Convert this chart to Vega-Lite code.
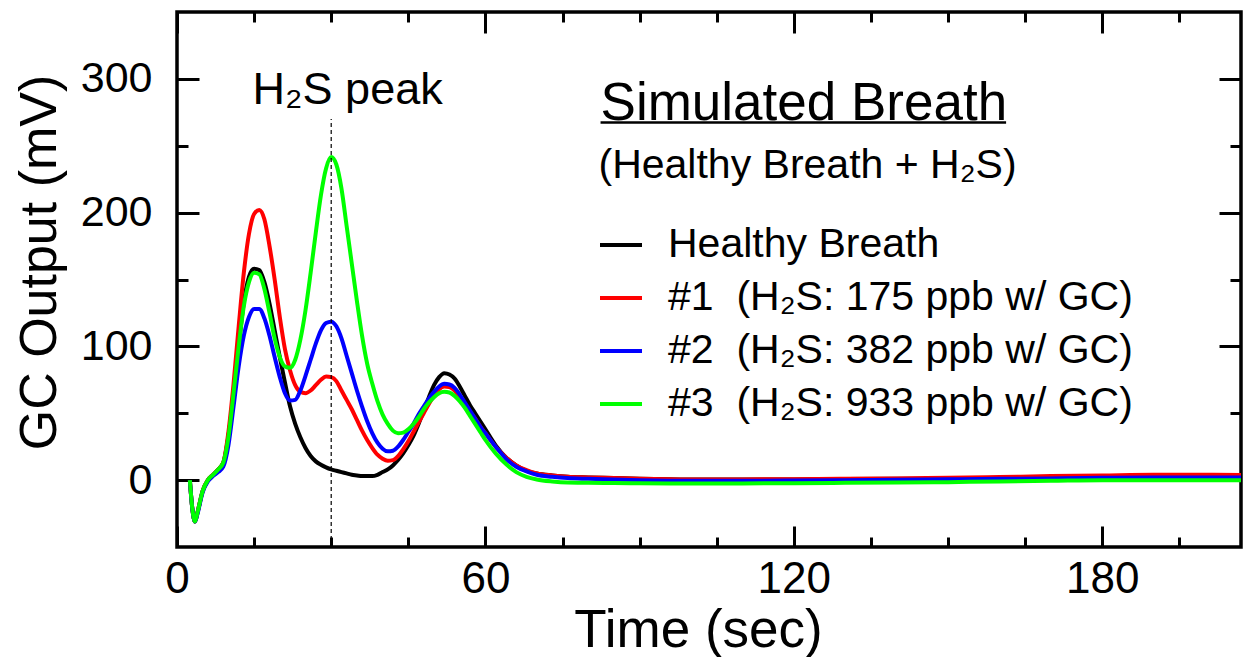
{
  "$schema": "https://vega.github.io/schema/vega-lite/v6.json",
  "width": 1064,
  "height": 535,
  "autosize": {"type": "none"},
  "padding": {"left": 177, "top": 12, "right": 2, "bottom": 110},
  "background": "white",
  "config": {
    "view": {"stroke": "black", "strokeWidth": 3.5},
    "font": "Liberation Sans"
  },
  "resolve": {"axis": {"x": "independent", "y": "independent"}},
  "layer": [
    {
      "data": {"values": [
        {"series":"Healthy Breath","t":2.5,"mV":0},{"series":"Healthy Breath","t":3,"mV":-22},{"series":"Healthy Breath","t":3.5,"mV":-31},{"series":"Healthy Breath","t":4,"mV":-24},{"series":"Healthy Breath","t":5,"mV":-8},{"series":"Healthy Breath","t":6,"mV":0},{"series":"Healthy Breath","t":7,"mV":4},{"series":"Healthy Breath","t":8,"mV":8},{"series":"Healthy Breath","t":9,"mV":13},
        {"series":"Healthy Breath","t":10,"mV":33},{"series":"Healthy Breath","t":11,"mV":64},{"series":"Healthy Breath","t":12,"mV":100},{"series":"Healthy Breath","t":13,"mV":133},{"series":"Healthy Breath","t":14,"mV":152},{"series":"Healthy Breath","t":15,"mV":158},{"series":"Healthy Breath","t":16,"mV":157},{"series":"Healthy Breath","t":17,"mV":148},{"series":"Healthy Breath","t":18,"mV":132},{"series":"Healthy Breath","t":19,"mV":112},
        {"series":"Healthy Breath","t":20,"mV":92},{"series":"Healthy Breath","t":21,"mV":73},{"series":"Healthy Breath","t":22,"mV":55},{"series":"Healthy Breath","t":23,"mV":42},{"series":"Healthy Breath","t":24,"mV":32},{"series":"Healthy Breath","t":25,"mV":24},{"series":"Healthy Breath","t":26,"mV":18},{"series":"Healthy Breath","t":27,"mV":14},{"series":"Healthy Breath","t":28,"mV":11.5},{"series":"Healthy Breath","t":29,"mV":9.5},
        {"series":"Healthy Breath","t":30,"mV":8},{"series":"Healthy Breath","t":31,"mV":7},{"series":"Healthy Breath","t":32,"mV":6},{"series":"Healthy Breath","t":33,"mV":5},{"series":"Healthy Breath","t":34,"mV":4},{"series":"Healthy Breath","t":35,"mV":3.5},{"series":"Healthy Breath","t":36,"mV":3},{"series":"Healthy Breath","t":37,"mV":3},{"series":"Healthy Breath","t":38,"mV":3},{"series":"Healthy Breath","t":39,"mV":4},
        {"series":"Healthy Breath","t":40,"mV":6},{"series":"Healthy Breath","t":41,"mV":8},{"series":"Healthy Breath","t":42,"mV":11},{"series":"Healthy Breath","t":43,"mV":15},{"series":"Healthy Breath","t":44,"mV":20},{"series":"Healthy Breath","t":45,"mV":26},{"series":"Healthy Breath","t":46,"mV":33},{"series":"Healthy Breath","t":47,"mV":42},{"series":"Healthy Breath","t":48,"mV":52},{"series":"Healthy Breath","t":49,"mV":62},
        {"series":"Healthy Breath","t":50,"mV":71},{"series":"Healthy Breath","t":51,"mV":77},{"series":"Healthy Breath","t":52,"mV":80},{"series":"Healthy Breath","t":53,"mV":79},{"series":"Healthy Breath","t":54,"mV":76},{"series":"Healthy Breath","t":55,"mV":70},{"series":"Healthy Breath","t":56,"mV":63},{"series":"Healthy Breath","t":57,"mV":56},{"series":"Healthy Breath","t":58,"mV":50},{"series":"Healthy Breath","t":59,"mV":44},
        {"series":"Healthy Breath","t":60,"mV":38},{"series":"Healthy Breath","t":62,"mV":26},{"series":"Healthy Breath","t":64,"mV":17},{"series":"Healthy Breath","t":66,"mV":11},{"series":"Healthy Breath","t":68,"mV":7},{"series":"Healthy Breath","t":70,"mV":5},{"series":"Healthy Breath","t":73,"mV":3.5},{"series":"Healthy Breath","t":76,"mV":2.5},{"series":"Healthy Breath","t":80,"mV":2},{"series":"Healthy Breath","t":85,"mV":1.5},
        {"series":"Healthy Breath","t":90,"mV":1},{"series":"Healthy Breath","t":100,"mV":0.5},{"series":"Healthy Breath","t":110,"mV":0.5},{"series":"Healthy Breath","t":120,"mV":0.5},{"series":"Healthy Breath","t":130,"mV":0.8},{"series":"Healthy Breath","t":140,"mV":1},{"series":"Healthy Breath","t":150,"mV":1.2},{"series":"Healthy Breath","t":160,"mV":1.5},{"series":"Healthy Breath","t":170,"mV":2},{"series":"Healthy Breath","t":180,"mV":2.5},{"series":"Healthy Breath","t":190,"mV":3},{"series":"Healthy Breath","t":200,"mV":3},{"series":"Healthy Breath","t":207,"mV":3},

        {"series":"#1","t":2.5,"mV":0},{"series":"#1","t":3,"mV":-22},{"series":"#1","t":3.5,"mV":-31},{"series":"#1","t":4,"mV":-24},{"series":"#1","t":5,"mV":-8},{"series":"#1","t":6,"mV":0},{"series":"#1","t":7,"mV":4},{"series":"#1","t":8,"mV":8},{"series":"#1","t":9,"mV":13},
        {"series":"#1","t":10,"mV":36},{"series":"#1","t":11,"mV":72},{"series":"#1","t":12,"mV":115},{"series":"#1","t":13,"mV":155},{"series":"#1","t":14,"mV":184},{"series":"#1","t":15,"mV":199},{"series":"#1","t":16,"mV":202},{"series":"#1","t":17,"mV":195},{"series":"#1","t":18,"mV":175},{"series":"#1","t":19,"mV":150},
        {"series":"#1","t":20,"mV":122},{"series":"#1","t":21,"mV":98},{"series":"#1","t":22,"mV":82},{"series":"#1","t":23,"mV":71},{"series":"#1","t":24,"mV":66},{"series":"#1","t":25,"mV":65},{"series":"#1","t":26,"mV":67},{"series":"#1","t":27,"mV":71},{"series":"#1","t":28,"mV":75},{"series":"#1","t":29,"mV":77.5},
        {"series":"#1","t":30,"mV":77},{"series":"#1","t":31,"mV":74},{"series":"#1","t":32,"mV":67},{"series":"#1","t":33,"mV":60},{"series":"#1","t":34,"mV":53},{"series":"#1","t":35,"mV":45},{"series":"#1","t":36,"mV":37},{"series":"#1","t":37,"mV":30},{"series":"#1","t":38,"mV":24},{"series":"#1","t":39,"mV":19},
        {"series":"#1","t":40,"mV":16},{"series":"#1","t":41,"mV":14.5},{"series":"#1","t":42,"mV":15},{"series":"#1","t":43,"mV":18},{"series":"#1","t":44,"mV":23},{"series":"#1","t":45,"mV":29},{"series":"#1","t":46,"mV":36},{"series":"#1","t":47,"mV":43},{"series":"#1","t":48,"mV":50},{"series":"#1","t":49,"mV":57},
        {"series":"#1","t":50,"mV":63},{"series":"#1","t":51,"mV":68},{"series":"#1","t":52,"mV":70},{"series":"#1","t":53,"mV":69.5},{"series":"#1","t":54,"mV":67},{"series":"#1","t":55,"mV":62},{"series":"#1","t":56,"mV":57},{"series":"#1","t":57,"mV":51},{"series":"#1","t":58,"mV":46},{"series":"#1","t":59,"mV":40},
        {"series":"#1","t":60,"mV":35},{"series":"#1","t":62,"mV":25},{"series":"#1","t":64,"mV":17},{"series":"#1","t":66,"mV":11},{"series":"#1","t":68,"mV":7.5},{"series":"#1","t":70,"mV":5},{"series":"#1","t":73,"mV":3.5},{"series":"#1","t":76,"mV":2.5},{"series":"#1","t":80,"mV":2},{"series":"#1","t":85,"mV":1.5},
        {"series":"#1","t":90,"mV":1},{"series":"#1","t":100,"mV":0.5},{"series":"#1","t":110,"mV":0.5},{"series":"#1","t":120,"mV":0.7},{"series":"#1","t":130,"mV":1},{"series":"#1","t":140,"mV":1.3},{"series":"#1","t":150,"mV":1.8},{"series":"#1","t":160,"mV":2.3},{"series":"#1","t":170,"mV":3},{"series":"#1","t":180,"mV":3.5},{"series":"#1","t":190,"mV":4},{"series":"#1","t":200,"mV":4},{"series":"#1","t":207,"mV":3.8},

        {"series":"#2","t":2.5,"mV":0},{"series":"#2","t":3,"mV":-22},{"series":"#2","t":3.5,"mV":-31},{"series":"#2","t":4,"mV":-25},{"series":"#2","t":5,"mV":-9},{"series":"#2","t":6,"mV":-1},{"series":"#2","t":7,"mV":3},{"series":"#2","t":8,"mV":6},{"series":"#2","t":9,"mV":10},
        {"series":"#2","t":10,"mV":26},{"series":"#2","t":11,"mV":55},{"series":"#2","t":12,"mV":85},{"series":"#2","t":13,"mV":108},{"series":"#2","t":14,"mV":122},{"series":"#2","t":15,"mV":128},{"series":"#2","t":16,"mV":128},{"series":"#2","t":17,"mV":121},{"series":"#2","t":18,"mV":108},{"series":"#2","t":19,"mV":92},
        {"series":"#2","t":20,"mV":77},{"series":"#2","t":21,"mV":65},{"series":"#2","t":22,"mV":59.5},{"series":"#2","t":23,"mV":60},{"series":"#2","t":24,"mV":67},{"series":"#2","t":25,"mV":78},{"series":"#2","t":26,"mV":90},{"series":"#2","t":27,"mV":102},{"series":"#2","t":28,"mV":112},{"series":"#2","t":29,"mV":117.5},
        {"series":"#2","t":30,"mV":118.5},{"series":"#2","t":31,"mV":115},{"series":"#2","t":32,"mV":106},{"series":"#2","t":33,"mV":93},{"series":"#2","t":34,"mV":80},{"series":"#2","t":35,"mV":67},{"series":"#2","t":36,"mV":55},{"series":"#2","t":37,"mV":44},{"series":"#2","t":38,"mV":35},{"series":"#2","t":39,"mV":28},
        {"series":"#2","t":40,"mV":23.5},{"series":"#2","t":41,"mV":21.5},{"series":"#2","t":42,"mV":22},{"series":"#2","t":43,"mV":25},{"series":"#2","t":44,"mV":30},{"series":"#2","t":45,"mV":36},{"series":"#2","t":46,"mV":42},{"series":"#2","t":47,"mV":49},{"series":"#2","t":48,"mV":55},{"series":"#2","t":49,"mV":61},
        {"series":"#2","t":50,"mV":66},{"series":"#2","t":51,"mV":70},{"series":"#2","t":52,"mV":72},{"series":"#2","t":53,"mV":71.5},{"series":"#2","t":54,"mV":69},{"series":"#2","t":55,"mV":64},{"series":"#2","t":56,"mV":58},{"series":"#2","t":57,"mV":52},{"series":"#2","t":58,"mV":46},{"series":"#2","t":59,"mV":40},
        {"series":"#2","t":60,"mV":35},{"series":"#2","t":62,"mV":25},{"series":"#2","t":64,"mV":16},{"series":"#2","t":66,"mV":10},{"series":"#2","t":68,"mV":6.5},{"series":"#2","t":70,"mV":4},{"series":"#2","t":73,"mV":2.5},{"series":"#2","t":76,"mV":1.5},{"series":"#2","t":80,"mV":1},{"series":"#2","t":85,"mV":0.5},
        {"series":"#2","t":90,"mV":0},{"series":"#2","t":100,"mV":-0.5},{"series":"#2","t":110,"mV":-0.5},{"series":"#2","t":120,"mV":-0.3},{"series":"#2","t":130,"mV":0},{"series":"#2","t":140,"mV":0.3},{"series":"#2","t":150,"mV":0.6},{"series":"#2","t":160,"mV":1},{"series":"#2","t":170,"mV":1.3},{"series":"#2","t":180,"mV":1.7},{"series":"#2","t":190,"mV":2},{"series":"#2","t":200,"mV":2},{"series":"#2","t":207,"mV":2},

        {"series":"#3","t":2.5,"mV":0},{"series":"#3","t":3,"mV":-22},{"series":"#3","t":3.5,"mV":-31},{"series":"#3","t":4,"mV":-24},{"series":"#3","t":5,"mV":-8},{"series":"#3","t":6,"mV":0},{"series":"#3","t":7,"mV":4},{"series":"#3","t":8,"mV":8},{"series":"#3","t":9,"mV":13},
        {"series":"#3","t":10,"mV":32},{"series":"#3","t":11,"mV":65},{"series":"#3","t":12,"mV":100},{"series":"#3","t":13,"mV":130},{"series":"#3","t":14,"mV":148},{"series":"#3","t":15,"mV":155},{"series":"#3","t":16,"mV":154},{"series":"#3","t":17,"mV":143},{"series":"#3","t":18,"mV":125},{"series":"#3","t":19,"mV":106},
        {"series":"#3","t":20,"mV":92},{"series":"#3","t":21,"mV":85},{"series":"#3","t":22,"mV":84},{"series":"#3","t":23,"mV":90},{"series":"#3","t":24,"mV":105},{"series":"#3","t":25,"mV":127},{"series":"#3","t":26,"mV":155},{"series":"#3","t":27,"mV":185},{"series":"#3","t":28,"mV":213},{"series":"#3","t":29,"mV":233},
        {"series":"#3","t":30,"mV":241.5},{"series":"#3","t":31,"mV":236},{"series":"#3","t":32,"mV":218},{"series":"#3","t":33,"mV":190},{"series":"#3","t":34,"mV":162},{"series":"#3","t":35,"mV":134},{"series":"#3","t":36,"mV":108},{"series":"#3","t":37,"mV":87},{"series":"#3","t":38,"mV":72},{"series":"#3","t":39,"mV":59},
        {"series":"#3","t":40,"mV":49},{"series":"#3","t":41,"mV":42},{"series":"#3","t":42,"mV":37},{"series":"#3","t":43,"mV":35},{"series":"#3","t":44,"mV":35.5},{"series":"#3","t":45,"mV":38},{"series":"#3","t":46,"mV":42},{"series":"#3","t":47,"mV":47},{"series":"#3","t":48,"mV":53},{"series":"#3","t":49,"mV":58},
        {"series":"#3","t":50,"mV":62},{"series":"#3","t":51,"mV":65},{"series":"#3","t":52,"mV":66},{"series":"#3","t":53,"mV":65.5},{"series":"#3","t":54,"mV":63},{"series":"#3","t":55,"mV":59},{"series":"#3","t":56,"mV":54},{"series":"#3","t":57,"mV":48},{"series":"#3","t":58,"mV":42},{"series":"#3","t":59,"mV":36},
        {"series":"#3","t":60,"mV":30},{"series":"#3","t":62,"mV":20},{"series":"#3","t":64,"mV":12},{"series":"#3","t":66,"mV":6},{"series":"#3","t":68,"mV":2.5},{"series":"#3","t":70,"mV":0.5},{"series":"#3","t":73,"mV":-1},{"series":"#3","t":76,"mV":-1.8},{"series":"#3","t":80,"mV":-2},{"series":"#3","t":85,"mV":-2.2},
        {"series":"#3","t":90,"mV":-2.3},{"series":"#3","t":100,"mV":-2.5},{"series":"#3","t":110,"mV":-2.5},{"series":"#3","t":120,"mV":-2.3},{"series":"#3","t":130,"mV":-2},{"series":"#3","t":140,"mV":-1.8},{"series":"#3","t":150,"mV":-1.5},{"series":"#3","t":160,"mV":-1},{"series":"#3","t":170,"mV":-0.5},{"series":"#3","t":180,"mV":0},{"series":"#3","t":190,"mV":0},{"series":"#3","t":200,"mV":0},{"series":"#3","t":207,"mV":0}
      ]},
      "mark": {"type": "line", "interpolate": "monotone", "strokeWidth": 4, "clip": true},
      "encoding": {
        "x": {
          "field": "t", "type": "quantitative",
          "scale": {"domain": [0, 207], "nice": false, "zero": false},
          "axis": {
            "orient": "bottom",
            "values": [0, 15, 30, 45, 60, 75, 90, 105, 120, 135, 150, 165, 180, 195],
            "labelExpr": "datum.value % 60 === 0 ? datum.label : ''",
            "tickSize": {"condition": {"test": "datum.value % 60 === 0", "value": -21}, "value": -10},
            "tickWidth": 3, "tickColor": "black",
            "domain": false, "grid": false,
            "labelFontSize": 44, "labelColor": "black", "labelPadding": 31,
            "labelFlush": false, "labelOverlap": false, "labelBound": false,
            "title": "Time (sec)", "titleFontSize": 53, "titleFontWeight": "normal", "titleColor": "black",
            "titleX": 521, "titleY": 99, "titleBaseline": "alphabetic", "titleAlign": "center"
          }
        },
        "y": {
          "field": "mV", "type": "quantitative",
          "scale": {"domain": [-50, 350], "nice": false, "zero": false},
          "axis": {
            "orient": "left",
            "values": [0, 50, 100, 150, 200, 250, 300],
            "labelExpr": "datum.value % 100 === 0 ? datum.label : ''",
            "tickSize": {"condition": {"test": "datum.value % 100 === 0", "value": -22}, "value": -11},
            "tickWidth": 3, "tickColor": "black",
            "domain": false, "grid": false,
            "labelFontSize": 43, "labelColor": "black", "labelPadding": 47,
            "labelFlush": false, "labelOverlap": false, "labelBound": false,
            "title": "GC Output (mV)", "titleFontSize": 52, "titleFontWeight": "normal", "titleColor": "black",
            "titleX": -122, "titleY": 250, "titleBaseline": "alphabetic", "titleAlign": "center", "titleAngle": -90
          }
        },
        "color": {
          "field": "series", "type": "nominal",
          "scale": {"domain": ["Healthy Breath", "#1", "#2", "#3"], "range": ["#000000", "#ff0000", "#0000ff", "#00ff00"]},
          "legend": {
            "orient": "none", "legendX": 421, "legendY": 210,
            "title": null, "padding": 0,
            "symbolType": "stroke", "symbolSize": 1764, "symbolStrokeWidth": 4,
            "labelFontSize": 41, "labelColor": "black", "labelOffset": 24, "labelLimit": 1000,
            "rowPadding": 10,
            "labelExpr": "datum.label === '#1' ? '#1\u00a0\u00a0(H₂S: 175 ppb w/ GC)' : datum.label === '#2' ? '#2\u00a0\u00a0(H₂S: 382 ppb w/ GC)' : datum.label === '#3' ? '#3\u00a0\u00a0(H₂S: 933 ppb w/ GC)' : datum.label"
          }
        }
      }
    },
    {
      "data": {"values": [{"t": 30, "lo": -50, "hi": 270}]},
      "mark": {"type": "rule", "strokeDash": [4, 3], "strokeWidth": 1.2, "color": "black"},
      "encoding": {
        "x": {
          "field": "t", "type": "quantitative",
          "axis": {
            "orient": "top",
            "values": [0, 15, 30, 45, 60, 75, 90, 105, 120, 135, 150, 165, 180, 195],
            "labels": false, "title": null, "domain": false, "grid": false,
            "tickSize": {"condition": {"test": "datum.value % 60 === 0", "value": -21}, "value": -10},
            "tickWidth": 3, "tickColor": "black"
          }
        },
        "y": {
          "field": "lo", "type": "quantitative",
          "axis": {
            "orient": "right",
            "values": [0, 50, 100, 150, 200, 250, 300],
            "labels": false, "title": null, "domain": false, "grid": false,
            "tickSize": {"condition": {"test": "datum.value % 100 === 0", "value": -22}, "value": -11},
            "tickWidth": 3, "tickColor": "black"
          }
        },
        "y2": {"field": "hi"}
      }
    },
    {
      "data": {"values": [{"t": 33.2, "mV": 281, "text": "H₂S peak"}]},
      "mark": {"type": "text", "fontSize": 45, "align": "center", "baseline": "alphabetic", "color": "black"},
      "encoding": {
        "x": {"field": "t", "type": "quantitative", "axis": null},
        "y": {"field": "mV", "type": "quantitative", "axis": null},
        "text": {"field": "text"}
      }
    },
    {
      "data": {"values": [{"t": 82.4, "mV": 269, "text": "Simulated Breath"}]},
      "mark": {"type": "text", "fontSize": 53, "align": "left", "baseline": "alphabetic", "color": "black"},
      "encoding": {
        "x": {"field": "t", "type": "quantitative", "axis": null},
        "y": {"field": "mV", "type": "quantitative", "axis": null},
        "text": {"field": "text"}
      }
    },
    {
      "data": {"values": [{"t": 82.4, "t2": 161.3, "mV": 267.3}]},
      "mark": {"type": "rule", "strokeWidth": 2.5, "color": "black"},
      "encoding": {
        "x": {"field": "t", "type": "quantitative", "axis": null},
        "x2": {"field": "t2"},
        "y": {"field": "mV", "type": "quantitative", "axis": null}
      }
    },
    {
      "data": {"values": [{"t": 82, "mV": 225.7, "text": "(Healthy Breath + H₂S)"}]},
      "mark": {"type": "text", "fontSize": 41, "align": "left", "baseline": "alphabetic", "color": "black"},
      "encoding": {
        "x": {"field": "t", "type": "quantitative", "axis": null},
        "y": {"field": "mV", "type": "quantitative", "axis": null},
        "text": {"field": "text"}
      }
    }
  ]
}
